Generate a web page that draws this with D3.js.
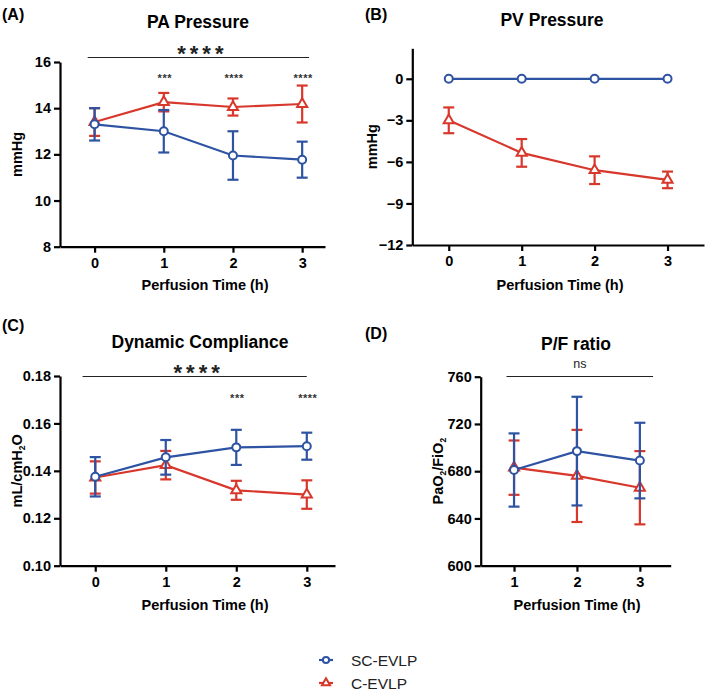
<!DOCTYPE html>
<html>
<head>
<meta charset="utf-8">
<script src="https://cdn.jsdelivr.net/npm/d3@7"></script>
<style>
  body { margin: 0; background: #fff; }
  text { font-family: "Liberation Sans", Arial, sans-serif; }
</style>
</head>
<body>
<div id="chart"></div>
<script>
// ---- data ----
var hours = [0, 1, 2, 3];
var pfHours = [1, 2, 3];

// PA pressure (mmHg), mean and sd
var paSC = [13.3, 13.0, 11.95, 11.77];
var paSCsd = [0.7, 0.92, 1.05, 0.78];
var paC = [13.4, 14.26, 14.05, 14.18];
var paCsd = [0.6, 0.4, 0.37, 0.8];
var paStars = ["", "***", "****", "****"];

// PV pressure (mmHg)
var pvSC = [0, 0, 0, 0];
var pvSCsd = [0, 0, 0, 0];
var pvC = [-3.0, -5.35, -6.6, -7.3];
var pvCsd = [0.93, 1.0, 1.0, 0.6];

// dynamic compliance (mL/cmH2O)
var compSC = [0.1375, 0.1457, 0.1499, 0.1504];
var compSCsd = [0.0083, 0.0073, 0.0074, 0.0057];
var compC = [0.1372, 0.1424, 0.1318, 0.1300];
var compCsd = [0.0068, 0.006, 0.004, 0.006];
var compStars = ["", "", "***", "****"];

// P/F ratio
var pfSC = [681, 697, 689];
var pfSCsd = [31, 46, 32];
var pfC = [683, 676, 666];
var pfCsd = [23, 39, 31];

var paTicks = [8, 10, 12, 14, 16];
var pvTicks = [-12, -9, -6, -3, 0];
var compTicks = [0.10, 0.12, 0.14, 0.16, 0.18];
var pfTicks = [600, 640, 680, 720, 760];

var groups = ["SC-EVLP", "C-EVLP"];
var blue = "#2d53a2", red = "#d8372c";

var svg = d3.select("#chart")
  .append("svg")
    .attr("width", 709)
    .attr("height", 694);

function panel(p) {
  var x = d3.scaleLinear().domain(p.xDomain).range(p.xRange);
  var y = d3.scaleLinear().domain(p.yDomain).range(p.yRange);
  var g = svg.append("g");

  // panel letter and title
  g.append("text").attr("x", p.letterPos[0]).attr("y", p.letterPos[1])
    .attr("font-size", 16).attr("font-weight", "bold").text(p.letter);
  g.append("text").attr("x", p.titlePos[0]).attr("y", p.titlePos[1])
    .attr("text-anchor", "middle").attr("font-size", 17.5).attr("font-weight", "bold")
    .text(p.title);

  // axes
  var xa = g.append("g")
    .attr("transform", "translate(0," + p.yRange[0] + ")")
    .call(d3.axisBottom(x).tickValues(p.xs).tickFormat(d3.format("d"))
      .tickSize(6).tickPadding(5).tickSizeOuter(0));
  var ya = g.append("g")
    .attr("transform", "translate(" + p.xRange[0] + ",0)")
    .call(d3.axisLeft(y).tickValues(p.yTicks).tickFormat(p.yFormat)
      .tickSize(6).tickPadding(3).tickSizeOuter(0));
  [xa, ya].forEach(function(a) {
    a.select(".domain").attr("stroke-width", 2.2);
    a.selectAll(".tick line").attr("stroke-width", 2.2);
    a.selectAll(".tick text").attr("font-size", 14.5).attr("font-weight", "bold")
      .attr("fill", "#000").style("font-family", '"Liberation Sans", Arial, sans-serif');
  });

  // axis titles
  g.append("text").attr("x", p.xLabelPos[0]).attr("y", p.xLabelPos[1])
    .attr("text-anchor", "middle").attr("font-size", 14.5).attr("font-weight", "bold")
    .text("Perfusion Time (h)");
  var yl = g.append("text")
    .attr("transform", "translate(" + p.yLabelX + "," + ((p.yRange[0] + p.yRange[1]) / 2) + ") rotate(-90)")
    .attr("text-anchor", "middle").attr("font-size", 14.5).attr("font-weight", "bold");
  p.yLabel.forEach(function(part) {
    var t = yl.append("tspan").text(part.t);
    if (part.sub) t.attr("font-size", 8.5).attr("dy", 3);
    if (part.up) t.attr("dy", -3);
  });

  // significance bar
  if (p.bar) {
    g.append("line")
      .attr("x1", x(p.bar.from)).attr("x2", x(p.bar.to))
      .attr("y1", p.bar.y + 0.5).attr("y2", p.bar.y + 0.5)
      .attr("stroke", "#222").attr("stroke-width", 1);
    g.append("text").attr("x", (x(p.bar.from) + x(p.bar.to)) / 2 + p.bar.dx)
      .attr("y", p.bar.labelY).attr("text-anchor", "middle")
      .attr("font-size", p.bar.size).attr("font-weight", p.bar.weight)
      .attr("letter-spacing", p.bar.spacing)
      .attr("fill", "#222")
      .text(p.bar.label);
  }
  if (p.stars) {
    g.selectAll(".star").data(p.stars).enter().append("text")
      .attr("x", function(d, i) { return x(p.xs[i]) + 1; })
      .attr("y", p.starY).attr("text-anchor", "middle")
      .attr("font-size", 11).attr("font-weight", "bold").attr("letter-spacing", 0.5)
      .attr("fill", "#333")
      .text(function(d) { return d; });
  }

  // series: red first so blue sits on top
  p.series.forEach(function(s) {
    var pts = p.xs.map(function(h, i) { return {h: h, m: s.mean[i], sd: s.sd[i]}; });
    var sg = g.append("g");

    sg.append("path").datum(pts)
      .attr("fill", "none").attr("stroke", s.color).attr("stroke-width", 2.2)
      .attr("d", d3.line().x(function(d) { return x(d.h); }).y(function(d) { return y(d.m); }));

    var eb = sg.selectAll(".eb").data(pts.filter(function(d) { return d.sd > 0; })).enter().append("g")
      .attr("stroke", s.color).attr("stroke-width", 2.2);
    eb.append("line")
      .attr("x1", function(d) { return x(d.h); }).attr("x2", function(d) { return x(d.h); })
      .attr("y1", function(d) { return y(d.m + d.sd); }).attr("y2", function(d) { return y(d.m - d.sd); });
    eb.append("line")
      .attr("x1", function(d) { return x(d.h) - 5.5; }).attr("x2", function(d) { return x(d.h) + 5.5; })
      .attr("y1", function(d) { return y(d.m + d.sd); }).attr("y2", function(d) { return y(d.m + d.sd); });
    eb.append("line")
      .attr("x1", function(d) { return x(d.h) - 5.5; }).attr("x2", function(d) { return x(d.h) + 5.5; })
      .attr("y1", function(d) { return y(d.m - d.sd); }).attr("y2", function(d) { return y(d.m - d.sd); });

    sg.selectAll(".mk").data(pts).enter().append("path")
      .attr("transform", function(d) { return "translate(" + x(d.h) + "," + y(d.m) + ")"; })
      .attr("d", d3.symbol().type(s.symbol).size(s.symbol === d3.symbolCircle ? 50 : 44))
      .attr("fill", "#fff").attr("stroke", s.color).attr("stroke-width", 2);
  });
}

var fmt2 = d3.format(".2f");

panel({
  letter: "(A)", letterPos: [2, 20], title: "PA Pressure", titlePos: [198, 28],
  xs: hours, xDomain: [-0.5, 3.33], xRange: [60, 325],
  yDomain: [8, 16], yRange: [246.7, 62], yTicks: paTicks, yFormat: d3.format("d"),
  xLabelPos: [205, 290], yLabelX: 22, yLabel: [{t: "mmHg"}],
  bar: {from: -0.1, to: 3.1, y: 57, label: "****", labelY: 61, size: 22, weight: "bold", spacing: 4, dx: 4},
  stars: paStars, starY: 82,
  series: [
    {mean: paC, sd: paCsd, color: red, symbol: d3.symbolTriangle},
    {mean: paSC, sd: paSCsd, color: blue, symbol: d3.symbolCircle}
  ]
});

panel({
  letter: "(B)", letterPos: [365, 20], title: "PV Pressure", titlePos: [552, 26],
  xs: hours, xDomain: [-0.5, 3.5], xRange: [412.3, 704],
  yDomain: [-12, 2.2], yRange: [245, 48.3], yTicks: pvTicks, yFormat: d3.format("d"),
  xLabelPos: [560, 290], yLabelX: 377, yLabel: [{t: "mmHg"}],
  series: [
    {mean: pvC, sd: pvCsd, color: red, symbol: d3.symbolTriangle},
    {mean: pvSC, sd: pvSCsd, color: blue, symbol: d3.symbolCircle}
  ]
});

panel({
  letter: "(C)", letterPos: [2, 331], title: "Dynamic Compliance", titlePos: [200, 348],
  xs: hours, xDomain: [-0.5, 3.4], xRange: [60, 335],
  yDomain: [0.10, 0.18], yRange: [565.7, 376], yTicks: compTicks, yFormat: fmt2,
  xLabelPos: [205, 610], yLabelX: 22, yLabel: [{t: "mL/cmH"}, {t: "2", sub: true}, {t: "O", up: true}],
  bar: {from: -0.18, to: 3.0, y: 376, label: "****", labelY: 380, size: 22, weight: "bold", spacing: 4, dx: 4},
  stars: compStars, starY: 402,
  series: [
    {mean: compC, sd: compCsd, color: red, symbol: d3.symbolTriangle},
    {mean: compSC, sd: compSCsd, color: blue, symbol: d3.symbolCircle}
  ]
});

panel({
  letter: "(D)", letterPos: [365, 339], title: "P/F ratio", titlePos: [576, 350],
  xs: pfHours, xDomain: [0.47, 3.49], xRange: [480.7, 670.7],
  yDomain: [600, 760], yRange: [565.7, 376.7], yTicks: pfTicks, yFormat: d3.format("d"),
  xLabelPos: [577, 610], yLabelX: 443, yLabel: [{t: "PaO"}, {t: "2", sub: true}, {t: "/FiO", up: true}, {t: "2", sub: true}],
  bar: {from: 0.88, to: 3.21, y: 376, label: "ns", labelY: 368, size: 12.5, weight: "normal", spacing: 0, dx: 0},
  series: [
    {mean: pfC, sd: pfCsd, color: red, symbol: d3.symbolTriangle},
    {mean: pfSC, sd: pfSCsd, color: blue, symbol: d3.symbolCircle}
  ]
});

// legend
var legend = svg.append("g");
var legendItems = [
  {name: groups[0], color: blue, symbol: d3.symbolCircle, y: 660},
  {name: groups[1], color: red, symbol: d3.symbolTriangle, y: 683}
];
legendItems.forEach(function(d) {
  legend.append("line").attr("x1", 319).attr("x2", 333).attr("y1", d.y).attr("y2", d.y)
    .attr("stroke", d.color).attr("stroke-width", 2.2);
  legend.append("path").attr("transform", "translate(326," + d.y + ")")
    .attr("d", d3.symbol().type(d.symbol).size(d.symbol === d3.symbolCircle ? 30 : 28))
    .attr("fill", "#fff").attr("stroke", d.color).attr("stroke-width", 2);
  legend.append("text").attr("x", 351).attr("y", d.y + 5.5)
    .attr("font-size", 15.5).attr("fill", "#222").text(d.name);
});
</script>
</body>
</html>
